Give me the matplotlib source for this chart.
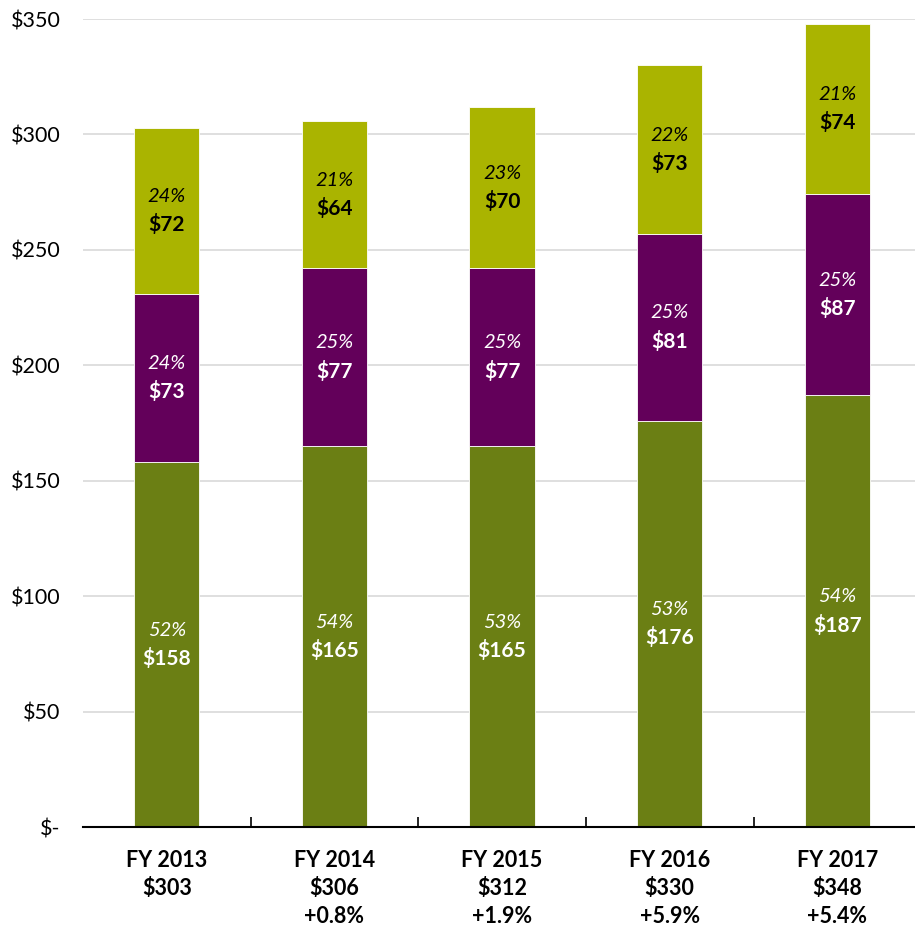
import numpy as np
import matplotlib
matplotlib.use("Agg")
import matplotlib.pyplot as plt
from matplotlib.ticker import FixedLocator

plt.rcParams['font.family'] = ['Lato', 'DejaVu Sans']

years = ['FY 2013', 'FY 2014', 'FY 2015', 'FY 2016', 'FY 2017']
totals = [303, 306, 312, 330, 348]
growth = ['', '+0.8%', '+1.9%', '+5.9%', '+5.4%']

base = [158, 165, 165, 176, 187]
middle = [73, 77, 77, 81, 87]
top = [72, 64, 70, 73, 74]

base_pct = [52, 54, 53, 53, 54]
middle_pct = [24, 25, 25, 25, 25]
top_pct = [24, 21, 23, 22, 21]

c_base = '#6B7F14'
c_mid = '#63005A'
c_top = '#AAB400'

fig = plt.figure(figsize=(9.15, 9.33), dpi=100)
ax = fig.add_axes([0.0907, 0.1136, 0.916, 0.866])

x = np.arange(len(years))
w = 0.39
bottoms = np.zeros(len(years))
segments = [(base, base_pct, c_base, 'white'),
            (middle, middle_pct, c_mid, 'white'),
            (top, top_pct, c_top, 'black')]
for vals, pcts, color, tcolor in segments:
    vals = np.array(vals)
    ax.bar(x, vals, w, bottom=bottoms, color=color, edgecolor='white',
           linewidth=0.6, zorder=2)
    for xi, b, v, p in zip(x, bottoms, vals, pcts):
        yc = b + v / 2
        ax.text(xi, yc + 6.2, f'{p}%', ha='center', va='center', fontsize=14.5,
                style='italic', color=tcolor, zorder=3)
        ax.text(xi, yc - 6.0, f'${v}', ha='center', va='center', fontsize=15,
                fontweight='bold', color=tcolor, zorder=3)
    bottoms += vals

ax.set_xlim(-0.5, len(years) - 0.5)
ax.set_ylim(0, 350)
ax.set_yticks(np.arange(0, 351, 50))
ax.set_yticklabels(['$-'] + [f'${v}' for v in range(50, 351, 50)], fontsize=15.5)
ax.tick_params(axis='y', length=0, pad=16)
ax.yaxis.grid(True, color='#D9D9D9', linewidth=1.2, zorder=0)
ax.set_axisbelow(True)

ax.set_xticks([])
ax.xaxis.set_minor_locator(FixedLocator(np.arange(0.5, len(years) - 1, 1.0)))
ax.tick_params(axis='x', which='minor', direction='in', length=7, width=1.2, color='black')

for s in ['left', 'right', 'top']:
    ax.spines[s].set_visible(False)
ax.spines['bottom'].set_linewidth(1.5)

for xi, yr, t, g in zip(x, years, totals, growth):
    label = f'{yr}\n${t}' + (f'\n{g}' if g else '')
    ax.text(xi, -0.028, label, transform=ax.get_xaxis_transform(), ha='center', va='top',
            fontsize=15.5, fontweight='bold', linespacing=1.42)

fig.savefig('out.png', dpi=100)
